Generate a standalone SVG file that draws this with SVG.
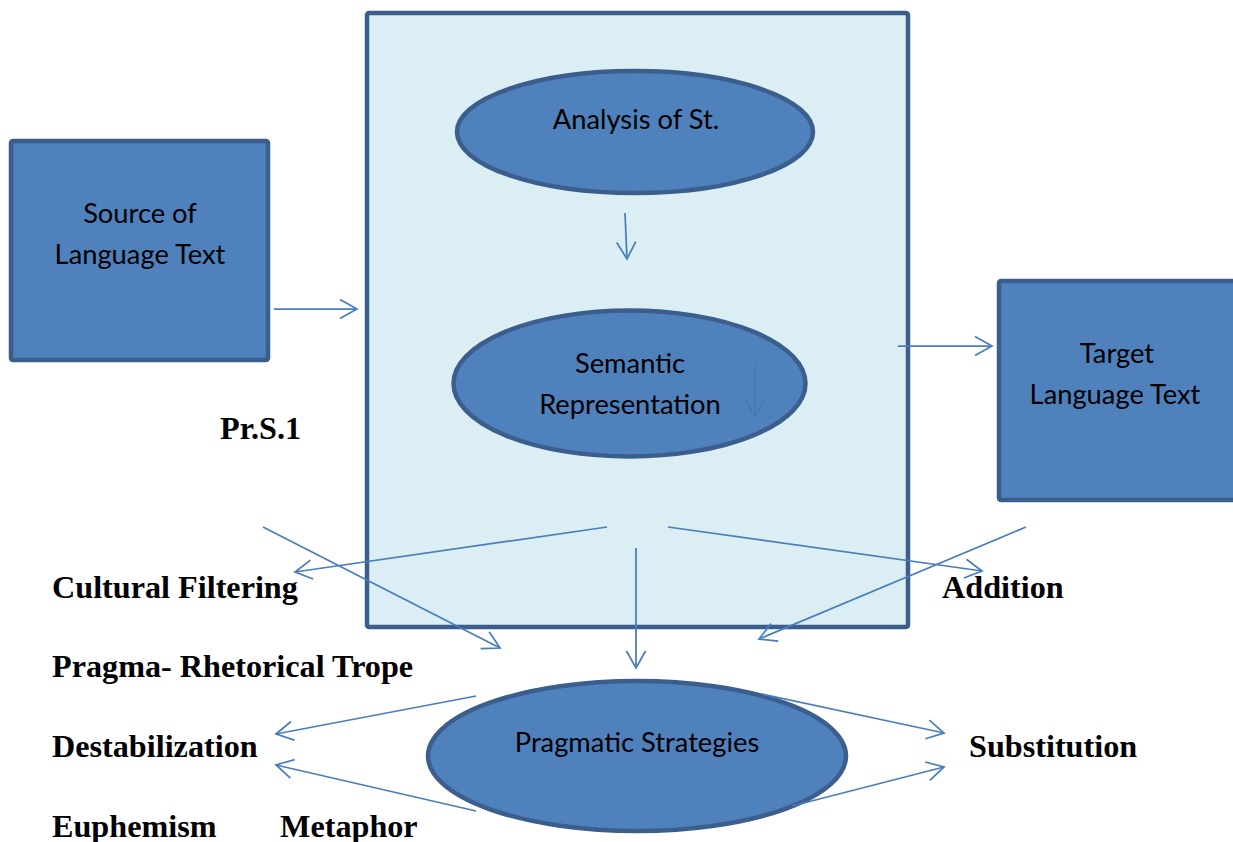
<svg xmlns="http://www.w3.org/2000/svg" width="1233" height="842" viewBox="0 0 1233 842">
  <defs>
    <style>
      .box { fill: #4f81bd; stroke: #3b5e8c; stroke-width: 4.5; }
      .panel { fill: #dbeef4; stroke: #3b5e8c; stroke-width: 4.5; }
      .node-text { font-family: Lato, "Open Sans", sans-serif; font-size: 27.3px; fill: #000; text-anchor: middle; }
      .label { font-family: "Liberation Serif", "Times New Roman", serif; font-weight: bold; font-size: 32.2px; fill: #000; }
      .conn { fill: none; stroke: #4a7ebb; stroke-width: 1.75; marker-end: url(#open-arrow); }
      .conn-faint { fill: none; stroke: #4677b4; stroke-width: 1.5; }
    </style>
    <marker id="open-arrow" markerUnits="userSpaceOnUse" markerWidth="24" markerHeight="24" viewBox="-20 -12 24 24" refX="0" refY="0" orient="auto">
      <path d="M-17,-9.5 L0,0 L-17,9.5" fill="none" stroke="#4a7ebb" stroke-width="1.75"/>
    </marker>
    <marker id="faint-arrow" markerUnits="userSpaceOnUse" markerWidth="24" markerHeight="24" viewBox="-20 -12 24 24" refX="0" refY="0" orient="auto">
      <path d="M-17,-9.5 L0,0 L-17,9.5" fill="none" stroke="#4677b4" stroke-width="1.5"/>
    </marker>
  </defs>

  <rect width="1233" height="842" fill="#ffffff"/>

  <!-- central processing panel -->
  <g id="panel">
    <rect class="panel" x="367" y="13" width="541" height="614" rx="2"/>
  </g>

  <g id="source-text">
    <rect class="box" x="11" y="141" width="257" height="219" rx="2"/>
    <text class="node-text" x="140" y="223">Source of</text>
    <text class="node-text" x="140" y="264">Language Text</text>
  </g>

  <g id="target-text">
    <rect class="box" x="999" y="281" width="250" height="219" rx="2"/>
    <text class="node-text" x="1117" y="363">Target</text>
    <text class="node-text" x="1115" y="404">Language Text</text>
  </g>

  <g id="analysis">
    <ellipse class="box" cx="635" cy="132" rx="178" ry="61"/>
    <text class="node-text" x="636" y="129">Analysis of St.</text>
  </g>

  <g id="semantic">
    <ellipse class="box" cx="629.5" cy="383.5" rx="176" ry="73"/>
    <text class="node-text" x="630" y="373">Semantic</text>
    <text class="node-text" x="630" y="414">Representation</text>
    <path class="conn-faint" d="M755,365 L755,417" marker-end="url(#faint-arrow)"/>
  </g>

  <g id="pragmatic">
    <ellipse class="box" cx="637" cy="756" rx="209" ry="75"/>
    <text class="node-text" x="637" y="752">Pragmatic Strategies</text>
  </g>

  <!-- strategy labels -->
  <g id="labels">
    <text class="label" x="220" y="439">Pr.S.1</text>
    <text class="label" x="52" y="598">Cultural Filtering</text>
    <text class="label" x="942" y="598">Addition</text>
    <text class="label" x="52" y="677">Pragma- Rhetorical Trope</text>
    <text class="label" x="52" y="757">Destabilization</text>
    <text class="label" x="969" y="757">Substitution</text>
    <text class="label" x="52" y="837">Euphemism</text>
    <text class="label" x="280" y="837">Metaphor</text>
  </g>

  <g id="connectors">
    <path class="conn" d="M274,309 L357,309"/>
    <path class="conn" d="M898,346 L992,346"/>
    <path class="conn" d="M625,213 L627,259"/>
    <path class="conn" d="M607,527 L295,572"/>
    <path class="conn" d="M668,527 L982,571"/>
    <path class="conn" d="M636,548 L636,668"/>
    <path class="conn" d="M263,527 L500,648"/>
    <path class="conn" d="M1026,527 L759,639"/>
    <path class="conn" d="M476,696 L276,734"/>
    <path class="conn" d="M476,811 L276,765"/>
    <path class="conn" d="M762,694 L944,733"/>
    <path class="conn" d="M792,806 L944,767"/>
  </g>
</svg>
